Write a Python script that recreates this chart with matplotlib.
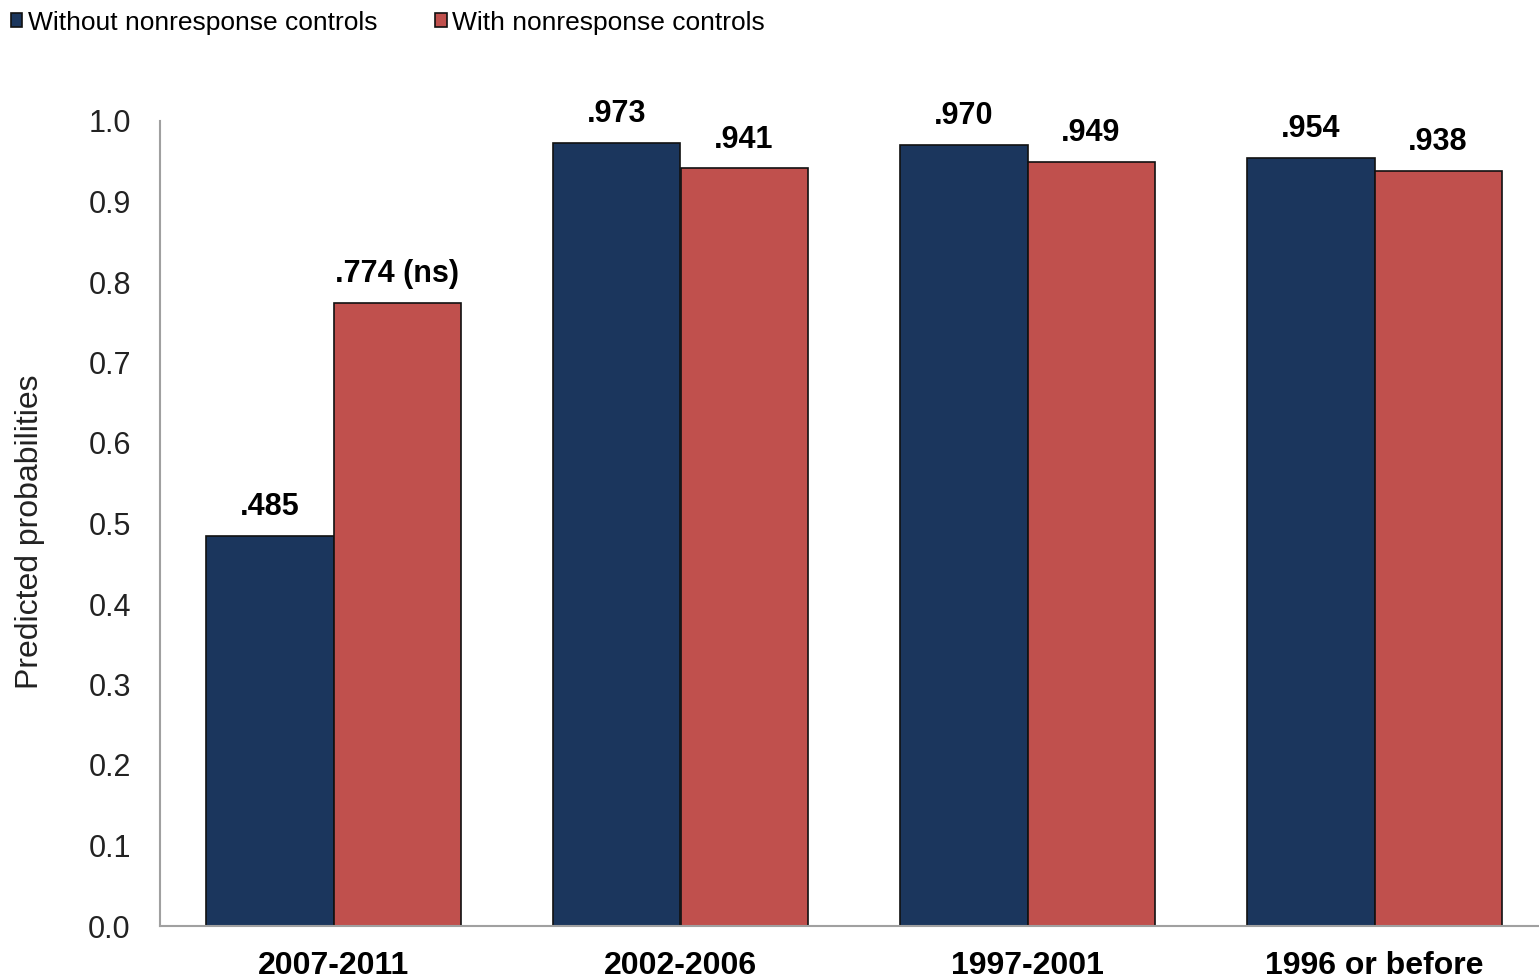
import numpy as np
import matplotlib.pyplot as plt

plt.rcParams['font.family'] = ['Liberation Sans', 'DejaVu Sans']

periods = ['2007-2011', '2002-2006', '1997-2001', '1996 or before']
without_ctrl = [0.485, 0.973, 0.970, 0.954]
with_ctrl = [0.774, 0.941, 0.949, 0.938]
without_lbl = ['.485', '.973', '.970', '.954']
with_lbl = ['.774 (ns)', '.941', '.949', '.938']

navy = '#1B365D'
red = '#C0504D'

fig = plt.figure(figsize=(15.39, 9.76), dpi=100)
ax = fig.add_axes([160 / 1539, 50 / 976, 1388 / 1539, 805 / 976])

x = np.arange(len(periods))
w = 0.366
b1 = ax.bar(x - w / 2, without_ctrl, w, color=navy, edgecolor='#111111', linewidth=1.2,
            label='Without nonresponse controls')
b2 = ax.bar(x + w / 2, with_ctrl, w, color=red, edgecolor='#111111', linewidth=1.2,
            label='With nonresponse controls')

for bars, labels in [(b1, without_lbl), (b2, with_lbl)]:
    for rect, txt in zip(bars, labels):
        ax.annotate(txt, (rect.get_x() + rect.get_width() / 2, rect.get_height()),
                    xytext=(0, 10), textcoords='offset points', ha='center', va='bottom',
                    fontsize=22, fontweight='bold')

ax.set_xlim(-0.5, 3.5)
ax.set_ylim(0, 1.0)
ax.set_yticks(np.arange(0, 1.01, 0.1))
ax.set_yticklabels(['%.1f' % v for v in np.arange(0, 1.01, 0.1)])
ax.set_xticks(x)
ax.set_xticklabels(periods, fontweight='bold', fontsize=23)
ax.tick_params(axis='y', length=0, pad=21, labelsize=22, labelcolor='#222222')
ax.tick_params(axis='x', length=0, pad=18)
ax.set_ylabel('Predicted probabilities', fontsize=23, color='#222222')
ax.yaxis.set_label_coords(-0.083, 0.49)

for s in ['top', 'right']:
    ax.spines[s].set_visible(False)
for s in ['left', 'bottom']:
    ax.spines[s].set_color('#A0A0A0')
    ax.spines[s].set_linewidth(1.5)

fig.legend(loc='upper left', bbox_to_anchor=(0.0, 1.0), ncol=2, frameon=False,
           fontsize=19, handlelength=0.45, handleheight=0.45, handletextpad=0.2,
           columnspacing=2.2, borderaxespad=0.0)

fig.savefig('out.png', dpi=100)
